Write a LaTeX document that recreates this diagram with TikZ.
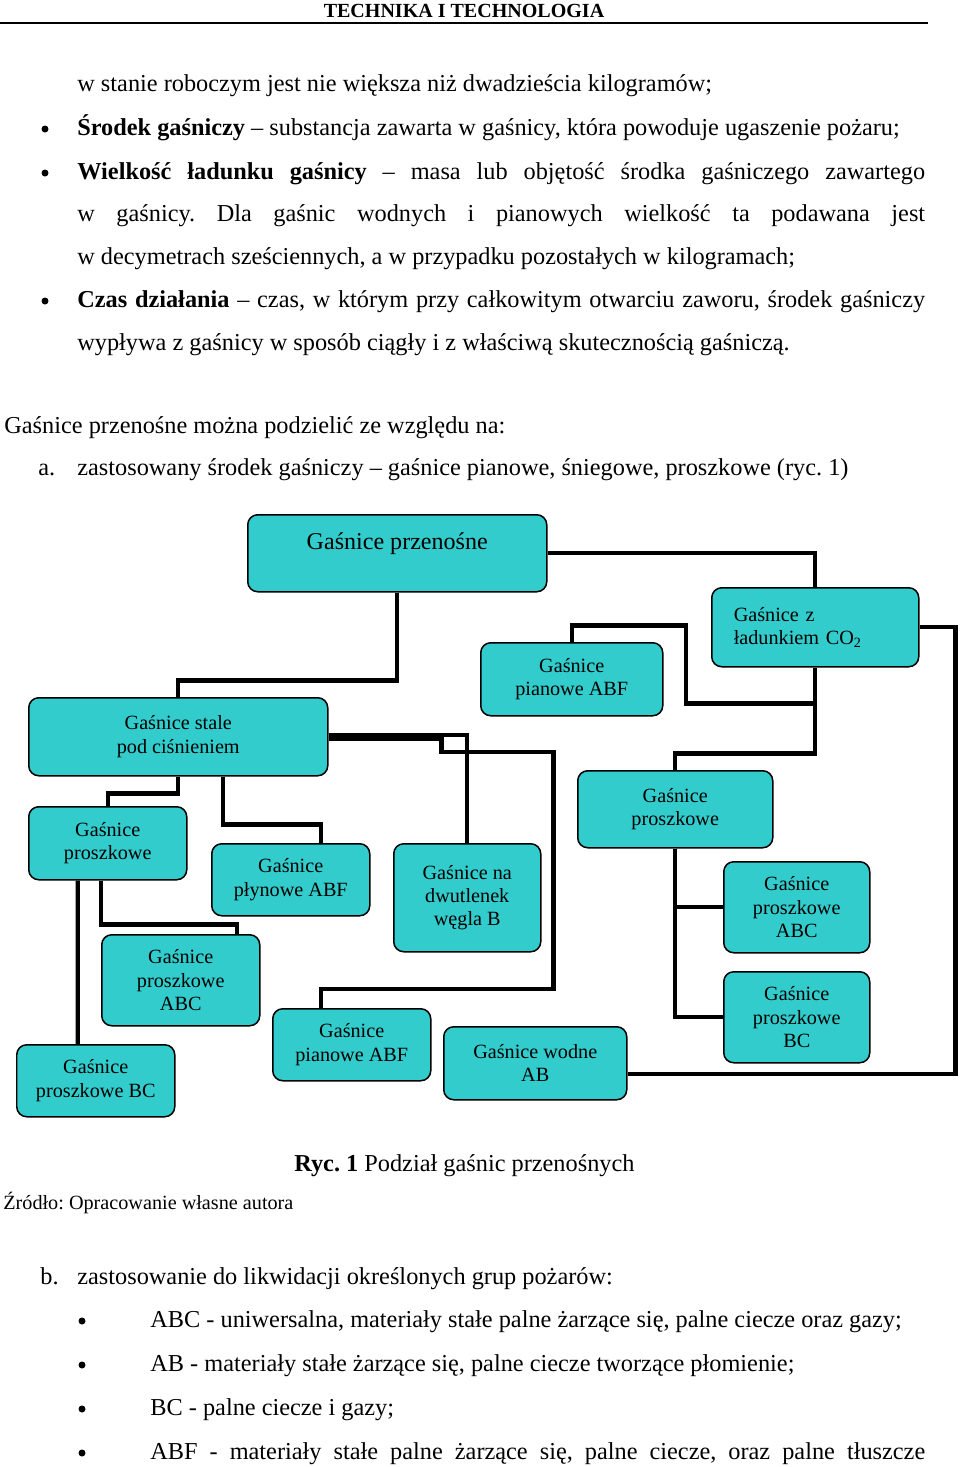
\documentclass[tikz,border=0pt]{standalone}
\usepackage{fontspec}
\setmainfont{Liberation Serif}
\definecolor{boxfill}{RGB}{51,204,204}
\newcommand\bodyfont{\fontsize{13.84pt}{16pt}\selectfont}
\newcommand\boxfont{\fontsize{11.5pt}{13.3pt}\selectfont}
\newcommand\rootfont{\fontsize{13.7pt}{16pt}\selectfont}
\frenchspacing
\begin{document}
\begin{tikzpicture}[x=0.02cm,y=-0.02cm,
  gbox/.style={draw=black, line width=0.03cm, fill=boxfill, rounded corners=0.2cm,
    anchor=north west, inner sep=0pt, align=center, font=\boxfont},
  conn/.style={line width=0.085cm},
  txt/.style={anchor=base west, inner sep=0pt, font=\bodyfont},
  dot/.style={fill=black}]
\useasboundingbox (0,0) rectangle (960,1467);

% page header
\node[anchor=base, inner sep=0pt, font=\fontsize{11.4pt}{13pt}\selectfont\bfseries] (head) at (464,17) {TECHNIKA I TECHNOLOGIA};
\draw[line width=0.03cm] (0,23) -- (928,23);

% definitions
\node[txt] (l1) at (77,91) {w stanie roboczym jest nie większa niż dwadzieścia kilogramów;};
\fill[dot] (45,129) circle (0.07cm);
\node[txt] (l2) at (77,135) {\textbf{Środek gaśniczy} – substancja zawarta w gaśnicy, która powoduje ugaszenie pożaru;};
\fill[dot] (45,173) circle (0.07cm);
\node[txt] (l3) at (77,179) {\makebox[16.96cm][s]{\textbf{Wielkość ładunku gaśnicy} – masa lub objętość środka gaśniczego zawartego}};
\node[txt] (l4) at (77,221) {\makebox[16.96cm][s]{w gaśnicy. Dla gaśnic wodnych i pianowych wielkość ta podawana jest}};
\node[txt] (l5) at (77,264) {w decymetrach sześciennych, a w przypadku pozostałych w kilogramach;};
\fill[dot] (45,301) circle (0.07cm);
\node[txt] (l6) at (77,307) {\makebox[16.96cm][s]{\textbf{Czas działania} – czas, w którym przy całkowitym otwarciu zaworu, środek gaśniczy}};
\node[txt] (l7) at (77,350) {wypływa z gaśnicy w sposób ciągły i z właściwą skutecznością gaśniczą.};

\node[txt] (intro) at (4,433) {Gaśnice przenośne można podzielić ze względu na:};
\node[txt] (pa) at (38,475) {a.};
\node[txt] (pa1) at (77,475) {zastosowany środek gaśniczy – gaśnice pianowe, śniegowe, proszkowe (ryc. 1)};

% diagram boxes
\node[gbox, minimum width=299*0.02cm, minimum height=77*0.02cm, font=\rootfont,
  text height=0.7cm, text depth=0.84cm] (root) at (247,514) {Gaśnice przenośne};
\node[gbox, minimum width=207*0.02cm, minimum height=79*0.02cm, align=left,
  inner xsep=0.44cm, text width=163*0.02cm] (co2) at (711,587) {Gaśnice z\\ładunkiem CO\textsubscript{2}};
\node[gbox, minimum width=182*0.02cm, minimum height=73*0.02cm] (pianT) at (480,642) {Gaśnice\\pianowe ABF};
\node[gbox, minimum width=299*0.02cm, minimum height=78*0.02cm] (stale) at (28,697) {Gaśnice stale\\pod ciśnieniem};
\node[gbox, minimum width=195*0.02cm, minimum height=77*0.02cm] (proszR) at (577,770) {Gaśnice\\proszkowe};
\node[gbox, minimum width=158*0.02cm, minimum height=73*0.02cm] (proszL) at (28,806) {Gaśnice\\proszkowe};
\node[gbox, minimum width=158*0.02cm, minimum height=72*0.02cm] (plyn) at (211,843) {Gaśnice\\płynowe ABF};
\node[gbox, minimum width=147*0.02cm, minimum height=108*0.02cm] (dwut) at (393,843) {Gaśnice na\\dwutlenek\\węgla B};
\node[gbox, minimum width=146*0.02cm, minimum height=91*0.02cm] (abcR) at (723,861) {Gaśnice\\proszkowe\\ABC};
\node[gbox, minimum width=158*0.02cm, minimum height=91*0.02cm] (abcL) at (101,934) {Gaśnice\\proszkowe\\ABC};
\node[gbox, minimum width=146*0.02cm, minimum height=91*0.02cm] (bcR) at (723,971) {Gaśnice\\proszkowe\\BC};
\node[gbox, minimum width=158*0.02cm, minimum height=72*0.02cm] (pianB) at (272,1008) {Gaśnice\\pianowe ABF};
\node[gbox, minimum width=183*0.02cm, minimum height=73*0.02cm] (wodne) at (443,1026) {Gaśnice wodne\\AB};
\node[gbox, minimum width=158*0.02cm, minimum height=72*0.02cm] (bcL) at (16,1044) {Gaśnice\\proszkowe BC};

% connectors
\draw[conn] (root.south) -- ++(0,88) -| (stale.north);
\draw[conn] (root.east) -| (co2.north);
\draw[conn] (co2.east) -- ++(36,0) |- ([yshift=-0.22cm]wodne.east);
\draw[conn] (co2.south) -- ++(0,86) -| (proszR.north);
\draw[conn] (co2.south) -- ++(0,36) -- ++(-129,0) -- ++(0,-78) -| (pianT.north);
\draw[conn] ([yshift=0.04cm]stale.east) -| (dwut.north);
\draw[conn] ([yshift=-0.04cm]stale.east) -- ++(113,0) -- ++(0,13) -- ++(112,0) -- ++(0,237) -| ([xshift=-0.62cm]pianB.north);
\draw[conn] (stale.south) -- ++(0,17) -| (proszL.north);
\draw[conn] ([xshift=0.89cm]stale.south) -- ++(0,48) -| ([xshift=0.6cm]plyn.north);
\draw[conn] ([xshift=-0.6cm]proszL.south) -- ([xshift=-0.36cm]bcL.north);
\draw[conn] ([xshift=-0.14cm]proszL.south) -- ++(0,44) -| ([xshift=1.12cm]abcL.north);
\draw[conn] (proszR.south) |- (bcR.west);
\draw[conn] (proszR.south |- abcR.west) -- (abcR.west);

% caption
\node[txt] (cap) at (294,1171) {\textbf{Ryc. 1} Podział gaśnic przenośnych};
\node[txt, font=\fontsize{11.5pt}{13pt}\selectfont] (src) at (3,1209) {Źródło: Opracowanie własne autora};

% second list
\node[txt] (pb) at (40,1284) {b.};
\node[txt] (pb1) at (77,1284) {zastosowanie do likwidacji określonych grup pożarów:};
\fill[dot] (82,1321) circle (0.07cm);
\node[txt] (g1) at (150,1327) {ABC - uniwersalna, materiały stałe palne żarzące się, palne ciecze oraz gazy;};
\fill[dot] (82,1365) circle (0.07cm);
\node[txt] (g2) at (150,1371) {AB - materiały stałe żarzące się, palne ciecze tworzące płomienie;};
\fill[dot] (82,1409) circle (0.07cm);
\node[txt] (g3) at (150,1415) {BC - palne ciecze i gazy;};
\fill[dot] (82,1453) circle (0.07cm);
\node[txt] (g4) at (150,1459) {\makebox[15.5cm][s]{ABF - materiały stałe palne żarzące się, palne ciecze, oraz palne tłuszcze}};
\end{tikzpicture}
\end{document}
